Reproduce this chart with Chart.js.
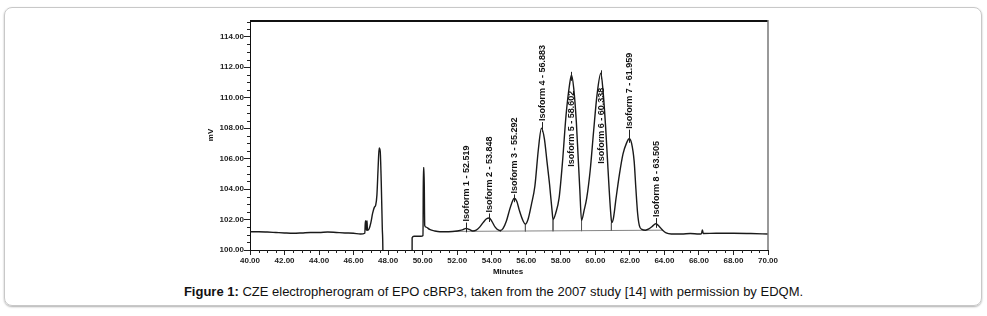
<!DOCTYPE html>
<html>
<head>
<meta charset="utf-8">
<script src="https://cdn.jsdelivr.net/npm/chart.js@4.4.0/dist/chart.umd.min.js"></script>
<style>
    body { margin: 0; background: #fff; font-family: "Liberation Sans", Arial, sans-serif; }
    .frame {
        position: absolute; left: 4px; top: 7px; width: 976px; height: 297px;
        border: 1px solid #c8c8c8; border-radius: 8px; box-shadow: 0 1px 2px #b0b0b0;
    }
    #chart { position: absolute; left: 0; top: 0; }
    .caption {
        position: absolute; left: 0; top: 284px; width: 987px; text-align: center;
        font-size: 13px; color: #111;
    }
</style>
</head>
<body>
<div class="frame"></div>
<canvas id="chart" width="987" height="280"></canvas>
<div class="caption"><b>Figure 1:</b> CZE electropherogram of EPO cBRP3, taken from the 2007 study [14] with permission by EDQM.</div>
<script>
// Trace do eletroferograma (minutos / mV)
const minutes = [
    40.0, 40.5, 41.0, 41.5, 42.0, 42.5, 43.0, 43.5, 44.0, 44.5, 45.0, 45.5, 46.0, 46.4,
    46.65, 46.68, 46.72, 46.74, 46.78, 46.8, 46.9, 47.0, 47.1, 47.2, 47.28, 47.35, 47.42,
    47.48, 47.54, 47.6, 47.66, 47.7, 47.72, 49.38, 49.39, 49.5, 49.9, 50.02, 50.04, 50.08,
    50.12, 50.2, 50.4, 50.7, 51.0, 51.5, 52.0, 52.3, 52.52, 52.7, 52.9, 53.1, 53.3, 53.5,
    53.7, 53.85, 54.0, 54.2, 54.4, 54.5, 54.65, 54.85, 55.05, 55.2, 55.3, 55.45, 55.6, 55.8,
    55.95, 56.1, 56.3, 56.5, 56.7, 56.88, 57.05, 57.2, 57.35, 57.5, 57.55, 57.7, 57.9, 58.1,
    58.3, 58.5, 58.62, 58.75, 58.9, 59.0, 59.1, 59.2, 59.35, 59.5, 59.7, 59.9, 60.1, 60.32,
    60.45, 60.6, 60.7, 60.8, 60.9, 60.95, 61.05, 61.2, 61.4, 61.6, 61.8, 61.96, 62.1, 62.25,
    62.35, 62.45, 62.55, 62.7, 62.9, 63.1, 63.3, 63.5, 63.7, 63.9, 64.1, 64.4, 65.0, 65.5,
    66.0, 66.15, 66.2, 66.25, 67.0, 68.0, 69.0, 70.0
];
const signal = [
    101.2, 101.2, 101.18, 101.15, 101.12, 101.1, 101.12, 101.15, 101.15, 101.18, 101.15, 101.12, 101.1, 101.05,
    101.1, 101.9, 101.9, 101.3, 101.9, 101.3, 101.4, 101.8, 102.4, 102.8, 102.95, 103.6, 105.4,
    106.7, 106.5, 104.5, 101.5, 99.5, 95, 95, 100.8, 100.9, 100.9, 100.95, 105.4, 105.4,
    101.6, 101.5, 101.35, 101.25, 101.2, 101.2, 101.25, 101.32, 101.42, 101.35, 101.25, 101.3, 101.5, 101.8,
    102.05, 102.1, 101.9, 101.5, 101.3, 101.28, 101.4, 101.9, 102.7, 103.2, 103.4, 103.2, 102.6, 101.95,
    101.7, 102.0, 103.0, 104.2, 106.6, 108.0, 107.3, 105.8, 104.3, 102.5, 102.0, 102.4, 103.4, 105.8,
    108.8, 110.8, 111.5, 110.6, 108.4, 106.2, 104.0, 101.95, 102.6, 103.4, 105.2, 107.8, 110.2, 111.6,
    110.4, 108.0, 106.0, 104.0, 102.3, 101.8, 102.1, 103.4, 105.0, 106.3, 107.0, 107.3, 107.0, 105.8,
    104.0, 102.4, 101.6, 101.35, 101.3, 101.38, 101.55, 101.72, 101.55, 101.3, 101.12, 101.05, 101.05, 101.08,
    101.05, 101.08, 101.32, 101.08, 101.1, 101.1, 101.08, 101.05
];

// Linha de base da integração e linhas de separação dos picos
const baselineMinutes = [51.9, 63.9];
const baselineSignal = [101.22, 101.3];
const valleyMinutes = [54.5, 55.95, 57.55, 59.2, 60.93];
const valleyTop = [101.28, 101.7, 102.0, 101.95, 101.8];
const valleyBottom = [101.2, 101.22, 101.23, 101.24, 101.25];

// Isoformas: nome, tempo de migração, ápice e início do rótulo (mV)
const isoformNames = [
    "Isoform 1 - 52.519", "Isoform 2 - 53.848", "Isoform 3 - 55.292", "Isoform 4 - 56.883",
    "Isoform 5 - 58.602", "Isoform 6 - 60.338", "Isoform 7 - 61.959", "Isoform 8 - 63.505"
];
const isoformTimes = [52.519, 53.848, 55.292, 56.883, 58.602, 60.338, 61.959, 63.505];
const isoformApex = [101.42, 102.1, 103.4, 108.0, 111.5, 111.6, 107.3, 101.72];
const labelStart = [101.8, 102.4, 103.65, 108.4, 105.4, 105.6, 107.9, 102.1];

const xTicks = { min: 40, max: 70, step: 2 };
const yTicks = { min: 100, max: 115.1, step: 2 };

const tickFont = { family: "Liberation Sans", size: 8, weight: "bold" };

// Marcas menores, moldura e rótulos das isoformas
const extrasPlugin = {
    id: "extras",
    afterDraw(chart) {
        const { ctx, chartArea: a, scales: { x, y } } = chart;
        ctx.save();
        ctx.strokeStyle = "#222";
        ctx.lineWidth = 1;
        ctx.beginPath();
        for (let v = yTicks.min; v <= yTicks.max; v += 0.5) {
            if (v % 2 === 0) continue;
            const py = Math.round(y.getPixelForValue(v)) + 0.5;
            ctx.moveTo(a.left - 3, py);
            ctx.lineTo(a.left, py);
        }
        for (let v = xTicks.min; v <= xTicks.max; v += 0.5) {
            if (v % 2 === 0) continue;
            const px = Math.round(x.getPixelForValue(v)) + 0.5;
            ctx.moveTo(px, a.bottom);
            ctx.lineTo(px, a.bottom + 3);
        }
        ctx.stroke();

        // moldura superior e direita
        ctx.lineWidth = 2;
        ctx.strokeStyle = "#111";
        ctx.beginPath();
        ctx.moveTo(a.left, a.top + 1);
        ctx.lineTo(a.right, a.top + 1);
        ctx.stroke();
        ctx.lineWidth = 1.5;
        ctx.strokeStyle = "#777";
        ctx.beginPath();
        ctx.moveTo(a.right, a.top);
        ctx.lineTo(a.right, a.bottom);
        ctx.stroke();

        // rótulos das isoformas
        ctx.fillStyle = "#111";
        ctx.strokeStyle = "#222";
        ctx.lineWidth = 1;
        ctx.font = "bold 9px 'Liberation Sans'";
        ctx.textAlign = "left";
        ctx.textBaseline = "middle";
        isoformNames.forEach((name, i) => {
            const px = Math.round(x.getPixelForValue(isoformTimes[i])) + 0.5;
            const pApex = y.getPixelForValue(isoformApex[i]);
            const pStart = y.getPixelForValue(labelStart[i]);
            ctx.beginPath();
            if (pStart < pApex) {
                ctx.moveTo(px, pApex + 4);
                ctx.lineTo(px, pStart);
            } else {
                ctx.moveTo(px, pApex - 3);
                ctx.lineTo(px, pApex + 6);
            }
            ctx.stroke();
            ctx.save();
            ctx.translate(px, pStart);
            ctx.rotate(-Math.PI / 2);
            ctx.fillText(name, 1, 0);
            ctx.restore();
        });

        // títulos dos eixos
        ctx.font = "bold 8px 'Liberation Sans'";
        ctx.textAlign = "center";
        ctx.fillText("Minutes", 508, 272);
        ctx.save();
        ctx.translate(211, 135);
        ctx.rotate(-Math.PI / 2);
        ctx.fillText("mV", 0, 0);
        ctx.restore();
        ctx.restore();
    }
};

function toPoints(xs, ys) {
    return xs.map((v, i) => ({ x: v, y: ys[i] }));
}

function dropLinePoints() {
    const pts = [];
    valleyMinutes.forEach((m, i) => {
        pts.push({ x: m, y: valleyTop[i] }, { x: m, y: valleyBottom[i] }, { x: m, y: null });
    });
    return pts;
}

const ctx = document.getElementById("chart").getContext("2d");
new Chart(ctx, {
    type: "line",
    data: {
        datasets: [
            {
                label: "mV",
                data: toPoints(minutes, signal),
                borderColor: "#1a1a1a",
                borderWidth: 1.4,
                pointRadius: 0,
                cubicInterpolationMode: "monotone"
            },
            {
                label: "Baseline",
                data: toPoints(baselineMinutes, baselineSignal),
                borderColor: "#666",
                borderWidth: 0.8,
                pointRadius: 0
            },
            {
                label: "Drops",
                data: dropLinePoints(),
                borderColor: "#555",
                borderWidth: 0.8,
                pointRadius: 0,
                spanGaps: false
            }
        ]
    },
    options: {
        responsive: false,
        animation: false,
        layout: { padding: { left: 0, top: 20, right: 219, bottom: 0 } },
        plugins: {
            legend: { display: false },
            tooltip: { enabled: false }
        },
        scales: {
            x: {
                type: "linear",
                min: xTicks.min,
                max: xTicks.max,
                afterFit(scale) { scale.height = 30; },
                border: { display: true, color: "#111", width: 1 },
                grid: { drawOnChartArea: false, tickLength: 5, color: "#222" },
                ticks: {
                    stepSize: xTicks.step,
                    includeBounds: false,
                    maxRotation: 0,
                    autoSkip: false,
                    padding: 1,
                    color: "#222",
                    font: tickFont,
                    callback: v => v.toFixed(2)
                }
            },
            y: {
                min: yTicks.min,
                max: yTicks.max,
                afterFit(scale) { scale.width = 250; },
                border: { display: true, color: "#111", width: 1 },
                grid: { drawOnChartArea: false, tickLength: 6, color: "#222" },
                ticks: {
                    stepSize: yTicks.step,
                    includeBounds: false,
                    padding: 0,
                    color: "#222",
                    font: tickFont,
                    callback: v => v.toFixed(2)
                }
            }
        }
    },
    plugins: [extrasPlugin]
});
</script>
</body>
</html>
